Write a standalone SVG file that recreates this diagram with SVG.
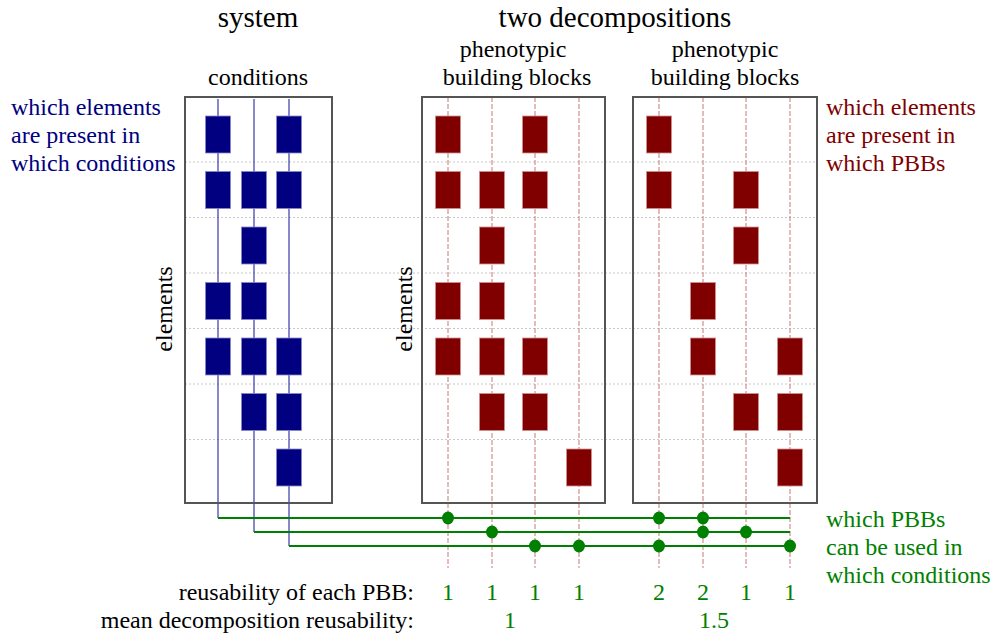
<svg xmlns="http://www.w3.org/2000/svg" width="991" height="633" viewBox="0 0 991 633">
<style>
text{font-family:"Liberation Serif","Times New Roman",serif;font-size:24px;}
.t{font-size:29px;fill:#000;}
.k{fill:#000;}
.b{fill:#000080;}
.r{fill:#800000;}
.g{fill:#008000;}
.frame{fill:none;stroke:#555;stroke-width:2;}
.grid{stroke:#c8c8c8;stroke-width:1;stroke-dasharray:2 2;}
.bv{stroke:#3838a8;stroke-width:1.2;fill:none;}
.rv{stroke:#c87878;stroke-width:1;stroke-dasharray:5 2;}
.bc{fill:#000080;stroke:#8888c8;stroke-width:0.8;}
.rc{fill:#800000;stroke:#d09090;stroke-width:0.8;}
.gl{stroke:#008000;stroke-width:2;fill:none;}
.dot{fill:#008000;}
</style>

<g id="grid">
<line class="grid" x1="185" y1="162" x2="817" y2="162"/>
<line class="grid" x1="185" y1="217.5" x2="817" y2="217.5"/>
<line class="grid" x1="185" y1="273" x2="817" y2="273"/>
<line class="grid" x1="185" y1="328.5" x2="817" y2="328.5"/>
<line class="grid" x1="185" y1="384" x2="817" y2="384"/>
<line class="grid" x1="185" y1="439.5" x2="817" y2="439.5"/>
</g>

<g id="connectors">
<polyline class="bv" points="218,99 218,518"/>
<polyline class="bv" points="254,99 254,532"/>
<polyline class="bv" points="289,99 289,546"/>
<line class="rv" x1="448" y1="97" x2="448" y2="568"/>
<line class="rv" x1="492" y1="97" x2="492" y2="568"/>
<line class="rv" x1="535" y1="97" x2="535" y2="568"/>
<line class="rv" x1="579" y1="97" x2="579" y2="568"/>
<line class="rv" x1="659" y1="97" x2="659" y2="568"/>
<line class="rv" x1="703" y1="97" x2="703" y2="568"/>
<line class="rv" x1="746" y1="97" x2="746" y2="568"/>
<line class="rv" x1="790" y1="97" x2="790" y2="568"/>
<line class="gl" x1="218" y1="518" x2="790" y2="518"/>
<line class="gl" x1="254" y1="532" x2="790" y2="532"/>
<line class="gl" x1="289" y1="546" x2="790" y2="546"/>
<ellipse class="dot" cx="448" cy="518" rx="6" ry="6.5"/>
<ellipse class="dot" cx="659" cy="518" rx="6" ry="6.5"/>
<ellipse class="dot" cx="703" cy="518" rx="6" ry="6.5"/>
<ellipse class="dot" cx="492" cy="532" rx="6" ry="6.5"/>
<ellipse class="dot" cx="703" cy="532" rx="6" ry="6.5"/>
<ellipse class="dot" cx="746" cy="532" rx="6" ry="6.5"/>
<ellipse class="dot" cx="535" cy="546" rx="6" ry="6.5"/>
<ellipse class="dot" cx="579" cy="546" rx="6" ry="6.5"/>
<ellipse class="dot" cx="659" cy="546" rx="6" ry="6.5"/>
<ellipse class="dot" cx="790" cy="546" rx="6" ry="6.5"/>
</g>

<g id="system">
<rect class="frame" x="185" y="97" width="147" height="406"/>
<rect class="bc" x="205.5" y="116" width="25" height="37"/>
<rect class="bc" x="276.5" y="116" width="25" height="37"/>
<rect class="bc" x="205.5" y="171.5" width="25" height="37"/>
<rect class="bc" x="241.5" y="171.5" width="25" height="37"/>
<rect class="bc" x="276.5" y="171.5" width="25" height="37"/>
<rect class="bc" x="241.5" y="227" width="25" height="37"/>
<rect class="bc" x="205.5" y="282.5" width="25" height="37"/>
<rect class="bc" x="241.5" y="282.5" width="25" height="37"/>
<rect class="bc" x="205.5" y="338" width="25" height="37"/>
<rect class="bc" x="241.5" y="338" width="25" height="37"/>
<rect class="bc" x="276.5" y="338" width="25" height="37"/>
<rect class="bc" x="241.5" y="393.5" width="25" height="37"/>
<rect class="bc" x="276.5" y="393.5" width="25" height="37"/>
<rect class="bc" x="276.5" y="449" width="25" height="37"/>
</g>

<g id="decomposition1">
<rect class="frame" x="422" y="97" width="183" height="406"/>
<rect class="rc" x="435.5" y="116" width="25" height="37"/>
<rect class="rc" x="522.5" y="116" width="25" height="37"/>
<rect class="rc" x="435.5" y="171.5" width="25" height="37"/>
<rect class="rc" x="479.5" y="171.5" width="25" height="37"/>
<rect class="rc" x="522.5" y="171.5" width="25" height="37"/>
<rect class="rc" x="479.5" y="227" width="25" height="37"/>
<rect class="rc" x="435.5" y="282.5" width="25" height="37"/>
<rect class="rc" x="479.5" y="282.5" width="25" height="37"/>
<rect class="rc" x="435.5" y="338" width="25" height="37"/>
<rect class="rc" x="479.5" y="338" width="25" height="37"/>
<rect class="rc" x="522.5" y="338" width="25" height="37"/>
<rect class="rc" x="479.5" y="393.5" width="25" height="37"/>
<rect class="rc" x="522.5" y="393.5" width="25" height="37"/>
<rect class="rc" x="566.5" y="449" width="25" height="37"/>
</g>

<g id="decomposition2">
<rect class="frame" x="633" y="97" width="184" height="406"/>
<rect class="rc" x="646.5" y="116" width="25" height="37"/>
<rect class="rc" x="646.5" y="171.5" width="25" height="37"/>
<rect class="rc" x="733.5" y="171.5" width="25" height="37"/>
<rect class="rc" x="733.5" y="227" width="25" height="37"/>
<rect class="rc" x="690.5" y="282.5" width="25" height="37"/>
<rect class="rc" x="690.5" y="338" width="25" height="37"/>
<rect class="rc" x="777.5" y="338" width="25" height="37"/>
<rect class="rc" x="733.5" y="393.5" width="25" height="37"/>
<rect class="rc" x="777.5" y="393.5" width="25" height="37"/>
<rect class="rc" x="777.5" y="449" width="25" height="37"/>
</g>

<g id="titles">
<text class="t" x="258" y="27" text-anchor="middle">system</text>
<text class="t" x="615" y="27" text-anchor="middle">two decompositions</text>
<text class="k" x="258" y="85" text-anchor="middle">conditions</text>
<text class="k" x="513" y="57" text-anchor="middle">phenotypic</text>
<text class="k" x="517" y="85" text-anchor="middle">building blocks</text>
<text class="k" x="725" y="57" text-anchor="middle">phenotypic</text>
<text class="k" x="725" y="85" text-anchor="middle">building blocks</text>
<text class="k" transform="translate(172,309) rotate(-90)" text-anchor="middle">elements</text>
<text class="k" transform="translate(412,309) rotate(-90)" text-anchor="middle">elements</text>
</g>

<g id="notes">
<text class="b" x="11" y="115">which elements</text>
<text class="b" x="11" y="143">are present in</text>
<text class="b" x="11" y="171">which conditions</text>
<text class="r" x="826" y="115">which elements</text>
<text class="r" x="826" y="143">are present in</text>
<text class="r" x="826" y="171">which PBBs</text>
<text class="g" x="826" y="527">which PBBs</text>
<text class="g" x="826" y="555">can be used in</text>
<text class="g" x="826" y="583">which conditions</text>
</g>

<g id="scores">
<text class="k" x="414" y="600" text-anchor="end">reusability of each PBB:</text>
<text class="k" x="414" y="628" text-anchor="end">mean decomposition reusability:</text>
<text class="g" x="448" y="600" text-anchor="middle">1</text>
<text class="g" x="492" y="600" text-anchor="middle">1</text>
<text class="g" x="535" y="600" text-anchor="middle">1</text>
<text class="g" x="579" y="600" text-anchor="middle">1</text>
<text class="g" x="659" y="600" text-anchor="middle">2</text>
<text class="g" x="703" y="600" text-anchor="middle">2</text>
<text class="g" x="746" y="600" text-anchor="middle">1</text>
<text class="g" x="790" y="600" text-anchor="middle">1</text>
<text class="g" x="510" y="628" text-anchor="middle">1</text>
<text class="g" x="714" y="628" text-anchor="middle">1.5</text>
</g>
</svg>
